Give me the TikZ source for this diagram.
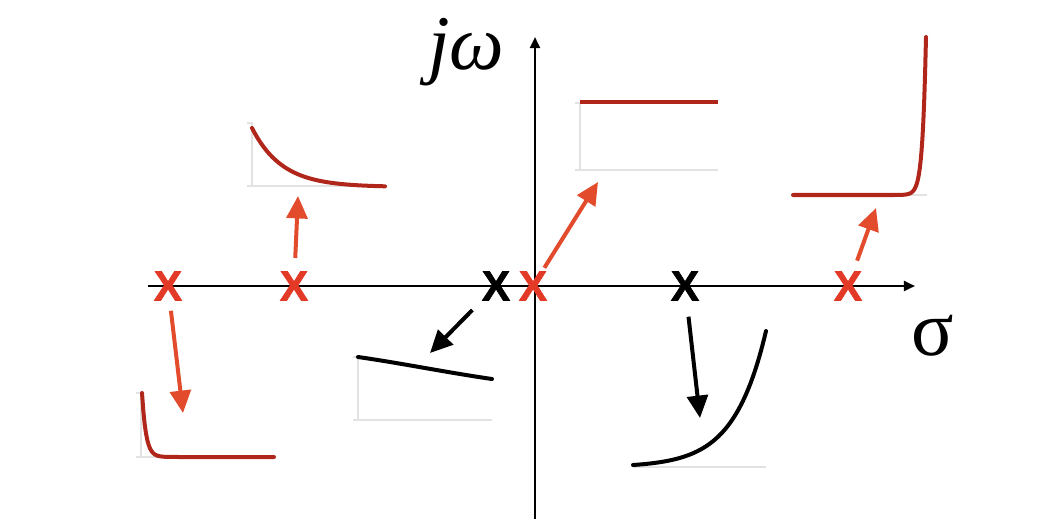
\documentclass[tikz,border=0pt]{standalone}
\usepackage{fontspec}
\newfontfamily\polefont[BoldFeatures={FakeBold=1.6}]{Liberation Sans}
\newfontfamily\axisfont{Liberation Serif}
\usetikzlibrary{arrows.meta}
\definecolor{polered}{HTML}{E23A26}
\definecolor{arrowred}{HTML}{E24C2C}
\definecolor{curvered}{HTML}{B0261A}
\definecolor{axisgray}{HTML}{E2E2E2}
\tikzset{
  pole/.style={inner sep=0pt, font=\fontsize{30}{30}\polefont\bfseries\selectfont},
  redpole/.style={pole, text=polered},
  blackpole/.style={pole, text=black},
  resp/.style={-{Triangle[length=0.56cm,width=0.52cm]}, line width=0.1cm},
  mainaxis/.style={line width=0.06cm, -{Triangle[length=0.28cm,width=0.25cm]}},
  minoraxis/.style={axisgray, line width=0.04cm},
  curve/.style={line width=0.1cm, line cap=round},
}
\begin{document}
\begin{tikzpicture}[x=0.025cm, y=-0.025cm]
 \useasboundingbox (0,0) rectangle (1050,519);
 % axes
 \draw[mainaxis] (148,286) -- (915,286);
 \draw[mainaxis] (535,519) -- (535,37);
 \node[font=\axisfont\itshape\fontsize{55}{55}\selectfont, anchor=base west, inner sep=0pt] (jw) at (428,70) {jω};
 \node[font=\axisfont\fontsize{56}{56}\selectfont, anchor=base, inner sep=0pt] (sigma) at (933,355) {σ};
 % poles
 \node[redpole]   (p1) at (168,286) {X};
 \node[redpole]   (p2) at (294,286) {X};
 \node[blackpole] (p3) at (496,286) {X};
 \node[redpole]   (p4) at (533,286) {X};
 \node[blackpole] (p5) at (685,286) {X};
 \node[redpole]   (p6) at (848,286) {X};
 % arrow tips
 \coordinate (t1) at (183,413);
 \coordinate (t2) at (298,196);
 \coordinate (t3) at (430,353);
 \coordinate (t4) at (598,182);
 \coordinate (t5) at (700,418);
 \coordinate (t6) at (876,208);
 \draw[resp, arrowred, shorten <=0.25cm] (p1) -- (t1);
 \draw[resp, arrowred, shorten <=0.33cm] (p2) -- (t2);
 \draw[resp, black, shorten <=0.33cm]    (p3) -- (t3);
 \draw[resp, arrowred, shorten <=0.1cm]  (p4) -- (t4);
 \draw[resp, black, shorten <=0.4cm]     (p5) -- (t5);
 \draw[resp, arrowred, shorten <=0.28cm] (p6) -- (t6);
 % responses
 \draw[minoraxis] (247,123) -- (252,123) -- (252,186);
 \draw[minoraxis] (247,186) -- (385,186);
 \draw[curve, curvered] plot[domain=252:385, samples=60] (\x, {187-59*exp(-(\x-252)/30)});
 \draw[minoraxis] (575,103) -- (580,103) -- (580,170);
 \draw[minoraxis] (575,170) -- (718,170);
 \draw[curve, curvered, line cap=butt] (580,102) -- (718,102);
 \draw[minoraxis] (793,195) -- (927,195);
 \draw[curve, curvered] plot[domain=793:926, samples=150] (\x, {195-158*exp((\x-926)/3.5)});
 \draw[minoraxis] (136,393) -- (141,393) -- (141,457);
 \draw[minoraxis] (136,457) -- (274,457);
 \draw[curve, curvered] plot[domain=142:274, samples=100] (\x, {457-64*exp(-(\x-142)/4)});
 \draw[minoraxis] (353,357) -- (358,357) -- (358,420);
 \draw[minoraxis] (353,420) -- (492,420);
 \draw[curve, black] (358,357) .. controls (400,363) and (450,373) .. (492,379);
 \draw[minoraxis] (633,467) -- (766,467);
 \draw[curve, black] plot[domain=633:766, samples=80] (\x, {465-134*(exp((\x-633)/32)-1)/(exp(133/32)-1)});
\end{tikzpicture}
\end{document}
